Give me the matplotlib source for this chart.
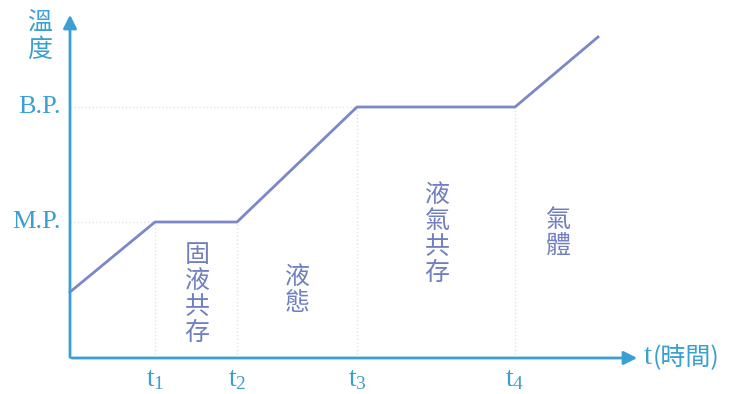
import matplotlib
matplotlib.use("Agg")
import matplotlib.pyplot as plt

# heating curve (x = time, y = temperature, pixel-ish units)
time_pts = [70, 155, 237, 357, 515, 598]
temp_pts = [102, 172, 172, 287, 287, 357]
t_ticks = [155, 237, 357, 515]
t_labels = ["t$_1$", "t$_2$", "t$_3$", "t$_4$"]
mp, bp = 172, 287
temp_labels = ["M.P.", "B.P."]
phase_names = ["固\n液\n共\n存", "液\n態", "液\n氣\n共\n存", "氣\n體"]
phase_x = [197, 297, 437, 558]
phase_y = [100, 104, 160, 161]

axis_c = "#3a9fd2"
line_c = "#7b87c9"
text_c = "#6f7fc2"
guide_c = "#e2e2e2"

plt.rcParams["mathtext.fontset"] = "custom"
plt.rcParams["mathtext.rm"] = "Liberation Serif"
plt.rcParams["mathtext.it"] = "Liberation Serif"
cjk = ["Noto Sans CJK TC", "DejaVu Sans"]

fig = plt.figure(figsize=(7.31, 3.94), dpi=100)
ax = fig.add_axes([0, 0, 1, 1])
ax.set_xlim(0, 731)
ax.set_ylim(0, 394)
ax.axis("off")

# faint guide lines
ax.plot([70, 357], [bp, bp], ":", color=guide_c, lw=1)
ax.plot([70, 155], [mp, mp], ":", color=guide_c, lw=1)
for i, t in enumerate(t_ticks):
    top = mp if i < 2 else bp
    ax.plot([t, t], [36, top], ":", color=guide_c, lw=1)

# axes with arrows
ax.annotate("", xy=(70, 382), xytext=(70, 34),
            arrowprops=dict(arrowstyle="-|>", color=axis_c, lw=2, mutation_scale=20))
ax.annotate("", xy=(640, 36), xytext=(69, 36),
            arrowprops=dict(arrowstyle="-|>", color=axis_c, lw=2, mutation_scale=20))

ax.plot(time_pts, temp_pts, color=line_c, lw=2)

for lab, y in zip(temp_labels, [mp, bp]):
    ax.text(61, y, lab, color=axis_c, fontsize=19, family="Liberation Serif",
            ha="right", va="center")
for lab, t in zip(t_labels, t_ticks):
    ax.text(t, 14, lab, color=axis_c, fontsize=20, family="Liberation Serif",
            ha="center", va="center")

ax.text(40, 357, "溫\n度", color=axis_c, fontsize=18, family=cjk,
        ha="center", va="center", linespacing=1.0)
ax.text(644, 37, "t", color=axis_c, fontsize=21, family="Liberation Serif",
        ha="left", va="center")
ax.text(653, 37, "(時間)", color=axis_c, fontsize=18, family=cjk,
        ha="left", va="center")

for name, x, y in zip(phase_names, phase_x, phase_y):
    ax.text(x, y, name, color=text_c, fontsize=18, family=cjk,
            ha="center", va="center", linespacing=1.0)

fig.savefig("out.png", dpi=100)
